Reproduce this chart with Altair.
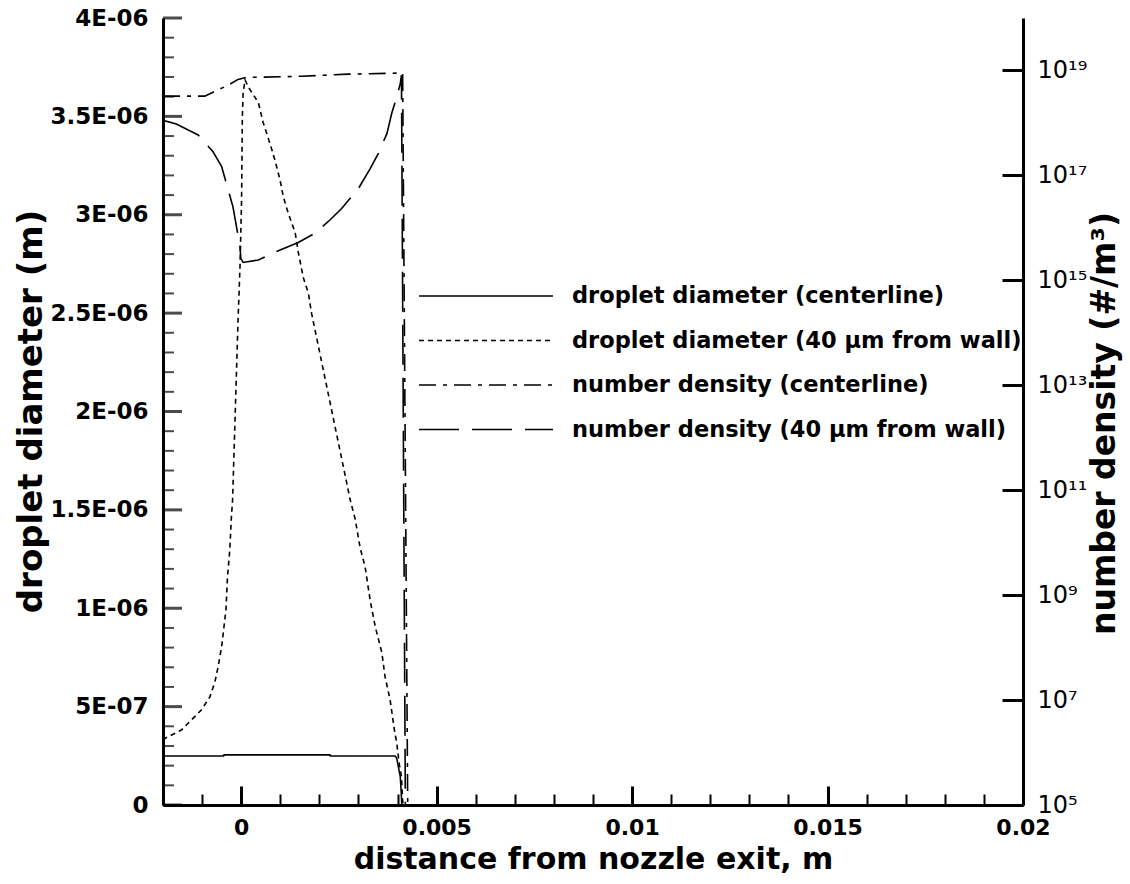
import altair as alt
import pandas as pd
import json

# ---------------- data ----------------
series_names = [
    "droplet diameter (centerline)",
    "droplet diameter (40 \u03bcm from wall)",
    "number density (centerline)",
    "number density (40 \u03bcm from wall)",
]

# droplet diameter, centerline (m)
x_diam_center = [-0.002, -0.00045, -0.00044, 0.00227, 0.00228, 0.00394, 0.00398,
                 0.00402, 0.00407, 0.00409, 0.00411]
diam_center = [2.49e-7, 2.49e-7, 2.55e-7, 2.55e-7, 2.49e-7, 2.49e-7, 2.37e-7,
               1.95e-7, 1.44e-7, 0.76e-7, 0.0]

# droplet diameter, 40 um from wall (m)
x_diam_wall = [-0.002, -0.00192, -0.00153, -0.00102, -0.0008, -0.00067, -0.00059,
               -0.0005, -0.00044, -0.00039, -0.00035, -0.00029, -0.00025, -0.00022,
               -0.00008, -0.00003, 0.00001, 0.00003, 0.00005, 0.0001,
               0.00018, 0.00044, 0.00056, 0.00074, 0.00086, 0.00099, 0.00108,
               0.0012, 0.00138, 0.00146, 0.00159, 0.00172, 0.0018, 0.00279,
               0.00292, 0.00304, 0.00317, 0.0033, 0.00343, 0.0036, 0.00368,
               0.00381, 0.00392, 0.00398, 0.00404, 0.0041, 0.00413, 0.00414]
diam_wall = [3.30e-7, 3.42e-7, 3.81e-7, 4.83e-7, 5.5e-7, 6.27e-7, 7.03e-7,
             8.05e-7, 9.06e-7, 9.91e-7, 1.16e-6, 1.30e-6, 1.465e-6, 1.55e-6,
             2.465e-6, 2.736e-6, 3.075e-6, 3.50e-6, 3.62e-6, 3.685e-6,
             3.65e-6, 3.57e-6, 3.47e-6, 3.36e-6, 3.28e-6, 3.18e-6, 3.09e-6,
             3.01e-6, 2.91e-6, 2.81e-6, 2.68e-6, 2.60e-6, 2.50e-6, 1.55e-6,
             1.45e-6, 1.31e-6, 1.21e-6, 1.04e-6, 0.906e-6, 0.773e-6, 0.652e-6,
             0.534e-6, 0.381e-6, 0.315e-6, 0.213e-6, 0.144e-6, 0.025e-6, 0.0]

# number density, centerline (#/m^3)
x_dens_center = [-0.002, -0.00093, -0.00059, -0.00033, -0.00008, 0.00014, 0.00044,
                 0.00154, 0.00274, 0.00407, 0.00413, 0.00426]
dens_center = [3.24e18, 3.24e18, 4.27e18, 5.25e18, 6.76e18, 7.41e18, 7.41e18,
               7.76e18, 8.51e18, 8.91e18, 8.91e18, 1e5]

# number density, 40 um from wall (#/m^3)
x_dens_wall = [-0.002, -0.00166, -0.0011, -0.00072, -0.0005, -0.00033, -0.00021,
               -0.00012, -0.00003, -0.00001, 0.00005, 0.00044, 0.0009, 0.00146,
               0.00189, 0.00227, 0.00257, 0.003, 0.0033, 0.00351, 0.00373,
               0.00385, 0.00398, 0.00407, 0.0041, 0.0042]
dens_wall = [1.12e18, 9.55e17, 5.89e17, 2.82e17, 1.48e17, 5.25e16, 2.51e16,
             1.05e16, 4.37e15, 2.63e15, 2.19e15, 2.45e15, 3.55e15, 5.25e15,
             7.94e15, 1.41e16, 2.34e16, 5.62e16, 1.35e17, 2.63e17, 6.31e17,
             1.51e18, 3.16e18, 5.62e18, 8.13e18, 1e5]

# axis tick labels
x_major_labels = ["0", "0.005", "0.01", "0.015", "0.02"]
left_major_labels = ["0", "5E-07", "1E-06", "1.5E-06", "2E-06", "2.5E-06",
                     "3E-06", "3.5E-06", "4E-06"]
left_major_values = [0, 5e-7, 1e-6, 1.5e-6, 2e-6, 2.5e-6, 3e-6, 3.5e-6, 4e-6]
right_tick_values = [1e5, 1e7, 1e9, 1e11, 1e13, 1e15, 1e17, 1e19]
right_tick_labels = ["10\u2075", "10\u2077", "10\u2079", "10\u00b9\u00b9",
                     "10\u00b9\u00b3", "10\u00b9\u2075", "10\u00b9\u2077", "10\u00b9\u2079"]

dash_patterns = [[1, 0], [5, 4], [17, 7, 4, 7], [40, 13]]

# ---------------- tables ----------------
df_d = pd.concat([
    pd.DataFrame({"x": x_diam_center, "y": diam_center, "series": series_names[0]}),
    pd.DataFrame({"x": x_diam_wall, "y": diam_wall, "series": series_names[1]}),
])
df_n = pd.concat([
    pd.DataFrame({"x": x_dens_center, "n": dens_center, "series": series_names[2]}),
    pd.DataFrame({"x": x_dens_wall, "n": dens_wall, "series": series_names[3]}),
])

FONT = "DejaVu Sans"
W, H = 860, 787
x_minor_values = [round(-0.002 + 0.001 * i, 6) for i in range(23)]
left_minor_values = [round(1e-7 * i, 12) for i in range(41) if i % 5 != 0]
df_tick_major = pd.DataFrame({"t": left_major_values})
df_tick_minor = pd.DataFrame({"t": left_minor_values})

x_label_expr = ("round(datum.value*1000) % 5 == 0 ? " + json.dumps(x_major_labels, ensure_ascii=False)
                + "[round(datum.value*200)] : ''")
left_label_expr = (json.dumps(left_major_labels, ensure_ascii=False)
                   + "[round(datum.value*2e6)]")
right_label_expr = (json.dumps(right_tick_labels, ensure_ascii=False)
                    + "[round((log(datum.value)/LN10 - 5)/2)]")

x_axis = alt.Axis(
    values=x_minor_values, labelExpr=x_label_expr, ticks=False, tickSize=0,
    grid=True, gridColor="black", gridOpacity=1,
    gridDash={"condition": {"test": "round(datum.value*1000) % 5 == 0", "value": [0, H - 19, 19, 3000]},
              "value": [0, H - 11, 11, 3000]},
    gridWidth={"condition": {"test": "round(datum.value*1000) % 5 == 0", "value": 3},
               "value": 2},
    domainColor="black", domainWidth=3,
    labelFont=FONT, labelFontSize=22, labelFontWeight="bold", labelColor="black",
    labelPadding=12, labelFlush=False, labelOverlap=False,
    title="distance from nozzle exit, m", titleFont=FONT, titleFontSize=30,
    titleFontWeight="bold", titleColor="black", titleY=54, titleBaseline="middle",
)

left_axis = alt.Axis(
    orient="left", values=left_major_values, labelExpr=left_label_expr,
    ticks=False, tickSize=0, grid=False,
    domainColor="black", domainWidth=3,
    labelFont=FONT, labelFontSize=23, labelFontWeight="bold", labelColor="black",
    labelPadding=15, labelFlush=False, labelOverlap=False,
    title="droplet diameter (m)", titleFont=FONT, titleFontSize=34,
    titleFontWeight="bold", titleColor="black", titleAngle=270,
    titleX=-132, titleY=393, titleBaseline="middle", titleAlign="center",
)

right_axis = alt.Axis(
    orient="right", values=right_tick_values, labelExpr=right_label_expr,
    ticks=False, tickSize=0,
    grid=True, gridColor="black", gridOpacity=1, gridDash=[21, 3000], gridWidth=3,
    domainColor="black", domainWidth=3,
    labelFont=FONT, labelFontSize=24, labelColor="black", labelPadding=14,
    labelFlush=False, labelOverlap=False,
    title="number density (#/m\u00b3)", titleFont=FONT, titleFontSize=33,
    titleFontWeight="bold", titleColor="black", titleAngle=270,
    titleX=81, titleY=405, titleBaseline="middle", titleAlign="center",
)

legend = alt.Legend(
    orient="none", legendX=255, legendY=268, title=None, padding=0,
    symbolType="stroke", symbolSize=134 * 134, symbolStrokeWidth=1.5,
    symbolStrokeColor="black", clipHeight=20, rowPadding=21.5,
    labelFont=FONT, labelFontSize=22.5, labelFontWeight="bold", labelColor="black",
    labelOffset=18, labelLimit=700,
)

dash_scale = alt.Scale(domain=series_names, range=dash_patterns)
x_scale = alt.Scale(domain=[-0.002, 0.02], nice=False, zero=False)


def left_scale():
    return alt.Scale(domain=[0, 4e-6], nice=False, zero=False)


diam = alt.Chart(df_d).mark_line(color="black", strokeWidth=1.6, clip=True).encode(
    x=alt.X("x:Q", scale=x_scale, axis=x_axis),
    y=alt.Y("y:Q", scale=left_scale(), axis=left_axis),
    strokeDash=alt.StrokeDash("series:N", scale=dash_scale, legend=legend),
)

dens = alt.Chart(df_n).mark_line(color="black", strokeWidth=1.6, clip=True).encode(
    x=alt.X("x:Q", scale=x_scale, axis=x_axis),
    y=alt.Y("n:Q", scale=alt.Scale(type="log", domain=[1e5, 1e20], nice=False), axis=right_axis),
    strokeDash=alt.StrokeDash("series:N", scale=dash_scale, legend=legend),
)

# inward ticks of the left axis (same y mapping as the diameter scale, no axis of their own)
left_major_ticks = alt.Chart(df_tick_major).mark_tick(
    color="black", orient="horizontal", size=19, thickness=3).encode(
    y=alt.Y("t:Q", scale=left_scale(), axis=None),
    x=alt.value(9.5),
)
left_minor_ticks = alt.Chart(df_tick_minor).mark_tick(
    color="black", orient="horizontal", size=11, thickness=2).encode(
    y=alt.Y("t:Q", scale=left_scale(), axis=None),
    x=alt.value(5.5),
)

chart = alt.layer(diam, dens, left_major_ticks, left_minor_ticks).resolve_scale(
    y="independent", strokeDash="shared").properties(
    width=W, height=H,
    padding={"left": 163, "top": 18, "right": 107, "bottom": 79},
    autosize="none",
    background="white",
).configure_view(strokeWidth=0)

chart.save("out.html", embed_options={"renderer": "svg", "actions": False})
